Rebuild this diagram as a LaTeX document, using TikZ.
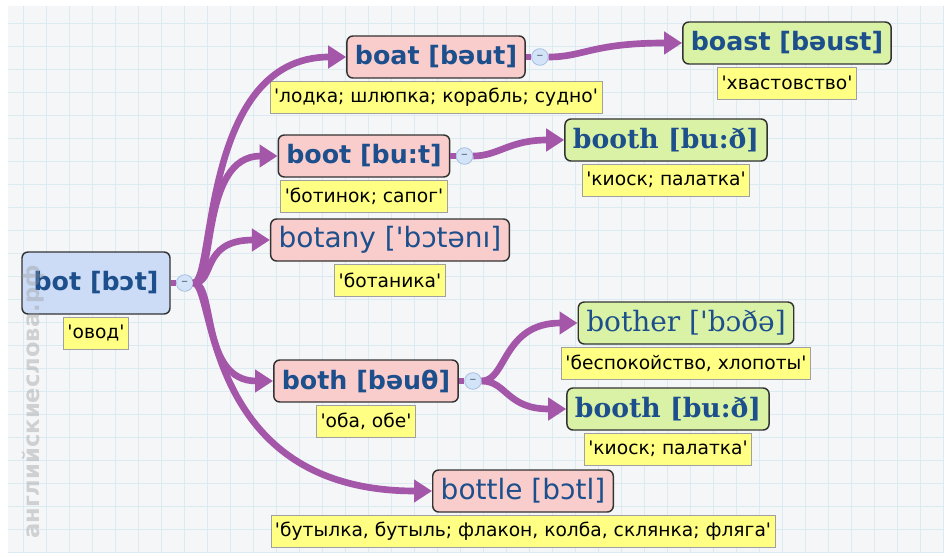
\documentclass[tikz,border=0pt]{standalone}
\usepackage{fontspec}
\setmainfont{DejaVu Sans}[Ligatures=TeXOff]
\newfontfamily\ipaserif{DejaVu Serif}[Ligatures=TeXOff]
\usetikzlibrary{arrows.meta,positioning}
\definecolor{linkpurple}{HTML}{A456A9}
\definecolor{wordpink}{HTML}{FACDCD}
\definecolor{wordgreen}{HTML}{DAF2A6}
\definecolor{wordblue}{HTML}{CCDCF7}
\definecolor{wordink}{HTML}{1C4F8B}
\definecolor{glossyellow}{HTML}{FFFF84}
\definecolor{glossedge}{HTML}{A0A0A0}
\definecolor{knobfill}{HTML}{D3E3F8}
\definecolor{knobedge}{HTML}{A6BFE2}
\definecolor{paper}{HTML}{F4F6F8}
\definecolor{paperline}{HTML}{DCEBF2}
\tikzset{
  wordbox/.style={
    rounded corners=4.5pt,
    draw=black!80,
    line width=1.1pt,
    text=wordink,
    minimum height=31.5pt,
    inner xsep=6pt,
    font=\fontsize{19}{22}\selectfont\bfseries
  },
  pinkbox/.style={wordbox, fill=wordpink},
  greenbox/.style={wordbox, fill=wordgreen},
  bluebox/.style={wordbox, fill=wordblue, minimum width=111pt, minimum height=46.5pt},
  plainword/.style={font=\fontsize{21}{24}\selectfont},
  serifword/.style={font=\ipaserif\fontsize{20}{23}\selectfont\bfseries},
  plainserif/.style={font=\ipaserif\fontsize{21}{24}\selectfont},
  gloss/.style={
    fill=glossyellow,
    draw=glossedge,
    line width=0.6pt,
    text=black,
    minimum height=24pt,
    inner xsep=3pt,
    inner ysep=2pt,
    font=\fontsize{14}{16}\selectfont
  },
  knob/.style={
    circle,
    fill=knobfill,
    draw=knobedge,
    line width=0.6pt,
    minimum size=12.5pt,
    inner sep=0pt,
    text=knobedge!55!black,
    font=\fontsize{10}{10}\selectfont
  },
  stub/.style={line width=5pt, draw=linkpurple},
  link/.style={
    -{Triangle[length=13.5pt,width=16.5pt]},
    line width=5pt,
    draw=linkpurple
  },
  watermark/.style={text=black!40, text opacity=0.4, font=\fontsize{17}{17}\selectfont\bfseries}
}
\begin{document}
\begin{tikzpicture}[x=0.75pt,y=-0.75pt,node distance=1.5pt]
\useasboundingbox (0,0) rectangle (944,556);
\fill[white] (0,0) rectangle (944,556);
\fill[paper] (8,6) rectangle (944,553);
\draw[paperline, line width=0.6pt, step=17.25pt] (8,553) grid (944,6);
% root word
\node[bluebox] (bot) at (96,283) {bot [bɔt]};
\node[gloss, below=of bot] (botgloss) {'овод'};
\node[knob, right=4pt of bot] (botknob) {\textendash};
\coordinate (bottrunk) at (200,283);
% first level
\node[pinkbox] (boat) at (436,57) {boat [bəut]};
\node[gloss, below=of boat] (boatgloss) {'лодка; шлюпка; корабль; судно'};
\node[knob, right=4pt of boat] (boatknob) {\textendash};
\node[pinkbox] (boot) at (364,156) {boot [bu:t]};
\node[gloss, below=of boot] (bootgloss) {'ботинок; сапог'};
\node[knob, right=4pt of boot] (bootknob) {\textendash};
\node[pinkbox, plainword] (botany) at (390,240) {botany ['bɔtənı]};
\node[gloss, below=of botany] (botanygloss) {'ботаника'};
\node[pinkbox] (both) at (366,381) {both [bəuθ]};
\node[gloss, below=of both] (bothgloss) {'оба, обе'};
\node[knob, right=4pt of both] (bothknob) {\textendash};
\node[pinkbox, plainword] (bottle) at (523,491) {bottle [bɔtl]};
\node[gloss, below=of bottle] (bottlegloss) {'бутылка, бутыль; флакон, колба, склянка; фляга'};
% second level
\node[greenbox] (boast) at (787,43) {boast [bəust]};
\node[gloss, below=of boast] (boastgloss) {'хвастовство'};
\node[greenbox, serifword] (booth) at (666,140) {booth [bu:ð]};
\node[gloss, below=of booth] (boothgloss) {'киоск; палатка'};
\node[greenbox, plainserif] (bother) at (686,323) {bother ['bɔðə]};
\node[gloss, below=of bother] (bothergloss) {'беспокойство, хлопоты'};
\node[greenbox, serifword] (boothtwo) at (668,409) {booth [bu:ð]};
\node[gloss, below=of boothtwo] (boothtwogloss) {'киоск; палатка'};
% links
\draw[stub] (bot.east) -- (botknob.west);
\draw[stub] (boat.east) -- (boatknob.west);
\draw[stub] (boot.east) -- (bootknob.west);
\draw[stub] (both.east) -- (bothknob.west);
\draw[link] (botknob.east) .. controls +(22,0) and (boat.west -| bottrunk) .. (boat.west);
\draw[link] (botknob.east) .. controls +(22,0) and (boot.west -| bottrunk) .. (boot.west);
\draw[link] (botknob.east) .. controls +(22,0) and (botany.west -| bottrunk) .. (botany.west);
\draw[link] (botknob.east) .. controls +(22,0) and (both.west -| bottrunk) .. (both.west);
\draw[link] (botknob.east) .. controls +(22,0) and (bottle.west -| bottrunk) .. (bottle.west);
\draw[link] (boatknob.east) .. controls +(35,0) and +(-90,0) .. (boast.west);
\draw[link] (bootknob.east) .. controls +(25,0) and +(-55,0) .. (booth.west);
\draw[link] (bothknob.east) .. controls +(25,0) and +(-75,0) .. (bother.west);
\draw[link] (bothknob.east) .. controls +(25,0) and +(-60,0) .. (boothtwo.west);
% site mark
\node[watermark, rotate=90] (site) at (33,402) {английскиеслова.рф};
\end{tikzpicture}
\end{document}
